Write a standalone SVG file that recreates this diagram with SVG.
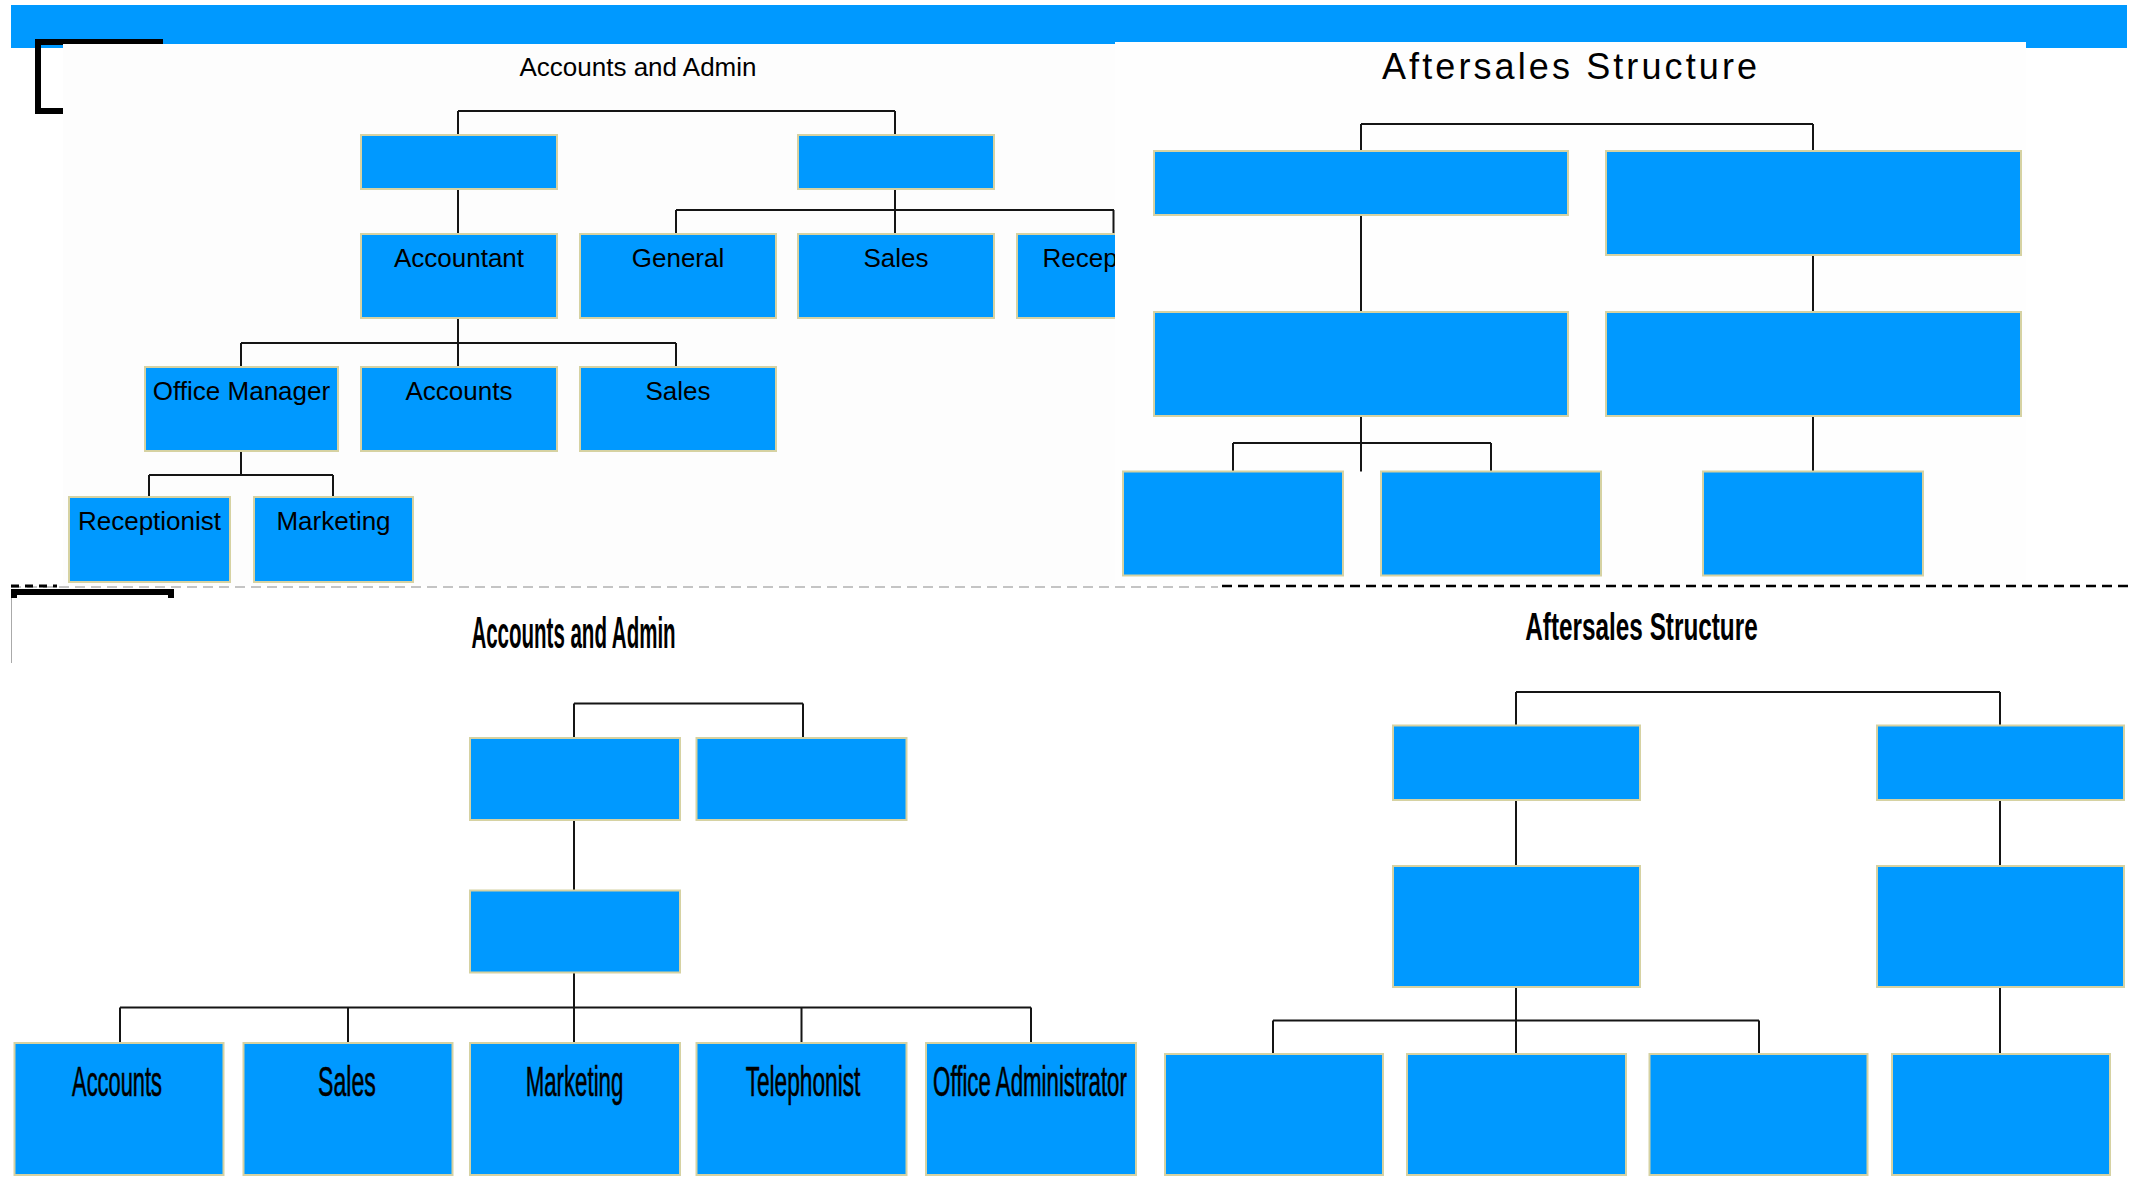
<svg xmlns="http://www.w3.org/2000/svg" width="2130" height="1185" viewBox="0 0 2130 1185">
<style>
.box{fill:#0099ff;stroke:#d6d2a2;stroke-width:2}
.con{fill:none;stroke:#151515;stroke-width:2}
.lbl{font-family:"Liberation Sans",Arial,sans-serif;font-size:26px;fill:#000;text-anchor:middle}
.lbl2{font-family:"Liberation Sans",Arial,sans-serif;font-size:42px;fill:#000;stroke:#000;stroke-width:0.6;text-anchor:middle}
.ttl{font-family:"Liberation Sans",Arial,sans-serif;fill:#000}
</style>
<defs>
<clipPath id="clipTL"><rect x="0" y="40" width="1115" height="550"/></clipPath>
</defs>
<rect x="0" y="0" width="2130" height="1185" fill="#ffffff"/>
<!-- top bar and frame bits -->
<g id="frame">
<rect x="11" y="5" width="2116" height="43" fill="#0099ff"/>
<path d="M163,42 H38 V111 H64" fill="none" stroke="#000" stroke-width="6"/>
<rect x="63" y="44" width="1052" height="542" fill="#fdfdfd"/>
<rect x="1115" y="42" width="911" height="544" fill="#fefefe"/>
<line x1="11" y1="587" x2="1218" y2="587" stroke="#8a8a8a" stroke-width="1.2" stroke-dasharray="10,6"/>
<line x1="1222" y1="586" x2="2130" y2="586" stroke="#000" stroke-width="2.5" stroke-dasharray="10,6"/>
<line x1="11" y1="586" x2="57" y2="586" stroke="#000" stroke-width="3" stroke-dasharray="8,6"/>
<path d="M14,598 V592 H171 V598" fill="none" stroke="#000" stroke-width="6"/>
<line x1="11.5" y1="598" x2="11.5" y2="663" stroke="#aaa" stroke-width="1"/>
</g>
<!-- titles -->
<text id="title-tl" class="ttl" x="638" y="76" font-size="26" text-anchor="middle">Accounts and Admin</text>
<text id="title-tr" class="ttl" x="1382" y="79" font-size="36" textLength="375" lengthAdjust="spacing">Aftersales Structure</text>
<text id="title-bl" class="ttl" transform="translate(573.5,648) scale(0.466,1)" x="0" y="0" font-size="44" font-weight="bold" text-anchor="middle">Accounts and Admin</text>
<text id="title-br" class="ttl" transform="translate(1641.5,640) scale(0.64,1)" x="0" y="0" font-size="38" font-weight="bold" text-anchor="middle">Aftersales Structure</text>

<!-- connectors -->
<g id="connectors">
<g clip-path="url(#clipTL)">
<path class="con" d="M458,111 H895 M458,111 V135 M895,111 V135 M458,189 V234 M895,189 V234 M676,210 H1114 M676,210 V234 M1113.5,210 V234 M458,318 V343 M241,343 H676 M241,343 V367 M676,343 V367 M458,343 V367 M241,451 V475 M149,475 H333 M149,475 V497 M333,475 V497"/>
</g>
<path class="con" d="M1361,124 H1813 M1361,124 V151 M1813,124 V151 M1361,215 V312 M1813,255 V312 M1361,416 V443 M1233,443 H1491 M1233,443 V471.5 M1491,443 V471.5 M1361,443 V471.5 M1813,416 V471.5"/>
<path class="con" d="M574,703.5 H803 M574,703.5 V738 M803,703.5 V738 M574,820 V890.5 M574,972.5 V1043 M120,1007.5 H1031 M120,1007.5 V1043 M348,1007.5 V1043 M801.5,1007.5 V1043 M1031,1007.5 V1043"/>
<path class="con" d="M1516,692 H2000 M1516,692 V725.5 M2000,692 V725.5 M1516,800 V866 M2000,800 V866 M1516,987 V1054 M1273,1020.5 H1759 M1273,1020.5 V1054 M1759,1020.5 V1054 M2000,987 V1054"/>
</g>

<!-- top-left chart -->
<g id="tl-a1"><rect class="box" x="361" y="135" width="196" height="54"/></g>
<g id="tl-b1"><rect class="box" x="798" y="135" width="196" height="54"/></g>
<g id="tl-accountant"><rect class="box" x="361" y="234" width="196" height="84"/><text class="lbl" x="459" y="266.5">Accountant</text></g>
<g id="tl-general"><rect class="box" x="580" y="234" width="196" height="84"/><text class="lbl" x="678" y="266.5">General</text></g>
<g id="tl-sales"><rect class="box" x="798" y="234" width="196" height="84"/><text class="lbl" x="896" y="266.5">Sales</text></g>
<g id="tl-recep" clip-path="url(#clipTL)"><rect class="box" x="1017" y="234" width="196" height="84"/><text class="lbl" x="1114" y="266.5">Receptionist</text></g>
<g id="tl-officemanager"><rect class="box" x="145" y="367" width="193" height="84"/><text class="lbl" x="241.5" y="399.5">Office Manager</text></g>
<g id="tl-accounts"><rect class="box" x="361" y="367" width="196" height="84"/><text class="lbl" x="459" y="399.5">Accounts</text></g>
<g id="tl-sales2"><rect class="box" x="580" y="367" width="196" height="84"/><text class="lbl" x="678" y="399.5">Sales</text></g>
<g id="tl-receptionist"><rect class="box" x="69" y="497" width="161" height="85"/><text class="lbl" x="149.5" y="530">Receptionist</text></g>
<g id="tl-marketing"><rect class="box" x="254" y="497" width="159" height="85"/><text class="lbl" x="333.5" y="530">Marketing</text></g>

<!-- top-right chart -->
<g id="tr-1"><rect class="box" x="1154" y="151" width="414" height="64"/></g>
<g id="tr-2"><rect class="box" x="1606" y="151" width="415" height="104"/></g>
<g id="tr-3"><rect class="box" x="1154" y="312" width="414" height="104"/></g>
<g id="tr-4"><rect class="box" x="1606" y="312" width="415" height="104"/></g>
<g id="tr-5"><rect class="box" x="1123" y="471.5" width="220" height="104"/></g>
<g id="tr-6"><rect class="box" x="1381" y="471.5" width="220" height="104"/></g>
<g id="tr-7"><rect class="box" x="1703" y="471.5" width="220" height="104"/></g>

<!-- bottom-left chart -->
<g id="bl-1"><rect class="box" x="470" y="738" width="210" height="82"/></g>
<g id="bl-2"><rect class="box" x="696.5" y="738" width="210" height="82"/></g>
<g id="bl-3"><rect class="box" x="470" y="890.5" width="210" height="82"/></g>
<g id="bl-accounts"><rect class="box" x="14.5" y="1043" width="209" height="132"/><text class="lbl2" transform="translate(117,1096) scale(0.52,1)" x="0" y="0">Accounts</text></g>
<g id="bl-sales"><rect class="box" x="243.5" y="1043" width="209" height="132"/><text class="lbl2" transform="translate(347,1096) scale(0.55,1)" x="0" y="0">Sales</text></g>
<g id="bl-marketing"><rect class="box" x="470" y="1043" width="210" height="132"/><text class="lbl2" transform="translate(574.5,1096) scale(0.53,1)" x="0" y="0">Marketing</text></g>
<g id="bl-telephonist"><rect class="box" x="696.5" y="1043" width="210" height="132"/><text class="lbl2" transform="translate(803,1096) scale(0.54,1)" x="0" y="0">Telephonist</text></g>
<g id="bl-officeadmin"><rect class="box" x="926" y="1043" width="210" height="132"/><text class="lbl2" transform="translate(1030,1096) scale(0.53,1)" x="0" y="0">Office Administrator</text></g>

<!-- bottom-right chart -->
<g id="br-1"><rect class="box" x="1393" y="725.5" width="247" height="74.5"/></g>
<g id="br-2"><rect class="box" x="1877" y="725.5" width="247" height="74.5"/></g>
<g id="br-3"><rect class="box" x="1393" y="866" width="247" height="121"/></g>
<g id="br-4"><rect class="box" x="1877" y="866" width="247" height="121"/></g>
<g id="br-5"><rect class="box" x="1165" y="1054" width="218" height="121"/></g>
<g id="br-6"><rect class="box" x="1407" y="1054" width="219" height="121"/></g>
<g id="br-7"><rect class="box" x="1649.5" y="1054" width="218" height="121"/></g>
<g id="br-8"><rect class="box" x="1892" y="1054" width="218" height="121"/></g>
</svg>
